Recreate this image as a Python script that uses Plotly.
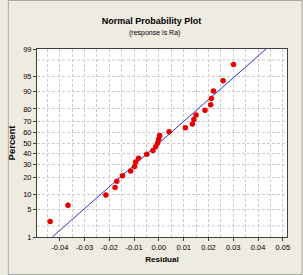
import plotly.graph_objects as go
from statistics import NormalDist

# Data (residual, percent)
residuals = [-0.0439, -0.0367, -0.0214, -0.0177, -0.0170, -0.0147, -0.0114, -0.0098,
             -0.0094, -0.0082, -0.0049, -0.0024, -0.0013, -0.0005, -0.0001, 0.0003,
             0.0041, 0.0107, 0.0135, 0.0141, 0.0150, 0.0186, 0.0209, 0.0212,
             0.0220, 0.0259, 0.0301]
percents = [2.6, 6.2, 9.9, 13.5, 17.2, 20.8, 24.5, 28.1, 31.8, 35.4, 39.1, 42.7,
            46.4, 50.0, 53.6, 57.3, 60.9, 64.6, 68.2, 71.9, 75.5, 79.2, 82.8,
            86.5, 90.1, 93.8, 97.4]
# fitted normal line
line_mean = 0.0001
line_sd = 0.01855
y_ticks = [1, 5, 10, 20, 30, 40, 50, 60, 70, 80, 90, 95, 99]
y_minor = [2, 98]
x_ticks = [-0.04, -0.03, -0.02, -0.01, 0.00, 0.01, 0.02, 0.03, 0.04, 0.05]
x_tick_labels = ["-0.04", "-0.03", "-0.02", "-0.01", "0.00", "0.01", "0.02", "0.03", "0.04", "0.05"]

nd = NormalDist()
def z(p):
    return nd.inv_cdf(p / 100.0)

zy = [z(p) for p in percents]
zlo, zhi = z(1), z(99)
line_z = [zlo, zhi]
line_x = [line_mean + line_sd * zz for zz in line_z]

FONT = "Liberation Sans, Arial, sans-serif"
GRID = "#cccccc"
DASH = "3px,2px"

shapes = []
for p in y_minor:
    shapes.append(dict(type="line", xref="paper", x0=0, x1=1, y0=z(p), y1=z(p),
                       line=dict(color=GRID, width=1, dash=DASH), layer="below"))
shapes.append(dict(type="rect", xref="paper", yref="paper",
                   x0=-29.5 / 257, x1=1 + 15.5 / 257, y0=-37.5 / 188, y1=1 + 48.5 / 188,
                   line=dict(color="#a8a8a8", width=1, dash="solid"), layer="below"))

fig = go.Figure()
fig.add_trace(go.Scatter(x=line_x, y=line_z, mode="lines",
                         line=dict(color="#3535c8", width=1), hoverinfo="skip"))
fig.add_trace(go.Scatter(x=residuals, y=zy, mode="markers",
                         marker=dict(color="#e60000", size=5.5, line=dict(width=0))))

fig.update_layout(
    width=303, height=275,
    margin=dict(l=30, r=16, t=49, b=38),
    paper_bgcolor="#eeebe0", plot_bgcolor="white",
    showlegend=False,
    title=dict(text="<b>Normal Probability Plot</b>", x=0.5, xanchor="center",
               y=1 - 20.5 / 275, yanchor="middle",
               font=dict(family=FONT, size=9, color="black")),
    annotations=[
        dict(text="(response is Ra)", xref="paper", yref="paper",
             x=(151 - 30) / 257, y=(237 - 33) / 188, showarrow=False,
             xanchor="center", yanchor="middle",
             font=dict(family=FONT, size=7, color="black")),
    ],
    shapes=shapes,
)

fig.update_xaxes(
    range=[-0.0492, 0.0517], tickvals=x_ticks, ticktext=x_tick_labels,
    ticks="outside", ticklen=3, tickcolor="#404040",
    showline=True, linecolor="#404040", linewidth=1, mirror=True,
    showgrid=True, gridcolor=GRID, griddash=DASH, gridwidth=1,
    minor=dict(dtick=0.005, tick0=0, showgrid=True, gridcolor=GRID, griddash=DASH, ticks=""),
    zeroline=False,
    tickfont=dict(family=FONT, size=7.5, color="black"),
    title=dict(text="<b>Residual</b>", standoff=5,
               font=dict(family=FONT, size=8, color="black")),
)
fig.update_yaxes(
    range=[zlo, zhi], tickvals=[z(p) for p in y_ticks], ticktext=[str(p) for p in y_ticks],
    ticks="outside", ticklen=3, tickcolor="#404040",
    showline=True, linecolor="#404040", linewidth=1, mirror=True,
    showgrid=True, gridcolor=GRID, griddash=DASH, gridwidth=1,
    zeroline=False,
    tickfont=dict(family=FONT, size=7.5, color="black"),
    title=dict(text="<b>Percent</b>", standoff=5,
               font=dict(family=FONT, size=9.5, color="black")),
)

fig.write_html("out.html")
